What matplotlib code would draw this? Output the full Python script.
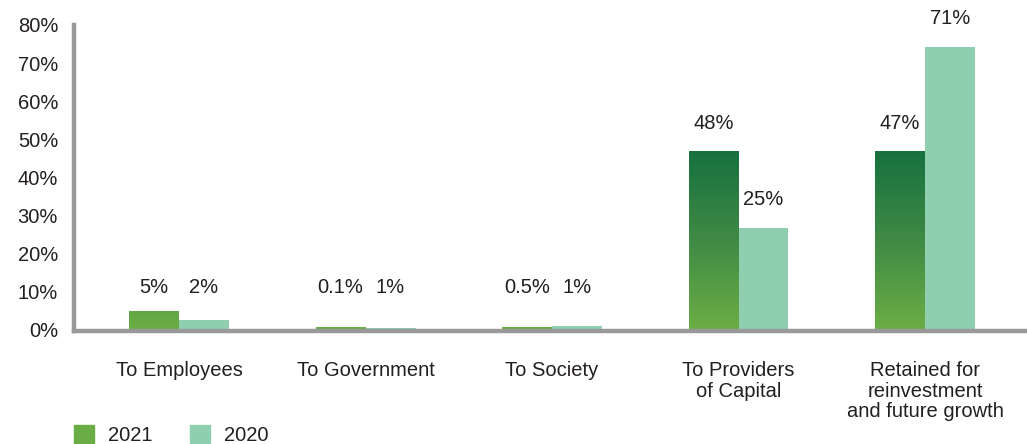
import numpy as np
import matplotlib
matplotlib.use("Agg")
from matplotlib import pyplot as plt
from matplotlib.colors import LinearSegmentedColormap
from matplotlib.patches import Patch

plt.rcParams['font.family'] = ['Liberation Sans', 'DejaVu Sans']

# --- data ---
categories = ["To Employees", "To Government", "To Society",
              "To Providers\nof Capital",
              "Retained for\nreinvestment\nand future growth"]
bars_2021 = [4.7, 0.3, 0.3, 46.7, 46.7]
bars_2020 = [2.4, 0.3, 0.7, 26.7, 74.2]
labels_2021 = ["5%", "0.1%", "0.5%", "48%", "47%"]
labels_2020 = ["2%", "1%", "1%", "25%", "71%"]
yticks = [0, 10, 20, 30, 40, 50, 60, 70, 80]

# --- styles ---
c_light21 = "#6BAD45"
c_dark21 = "#17713F"
c_2020 = "#8FCFB0"
c_axis = "#999999"
c_text = "#231F20"
fs = 14.5

cmap21 = LinearSegmentedColormap.from_list("g21", [c_light21, "#3F8A45", c_dark21])

fig = plt.figure(figsize=(10.27, 4.44), dpi=100)
ax = fig.add_axes([0.0721, 0.2534, 0.9279, 0.6903])

x = np.arange(len(categories))
w = 0.268

# 2021 bars with vertical gradient (absolute in y, light at 0 -> dark at top)
grad_top = max(bars_2021)
for xi, h in zip(x, bars_2021):
    yy = np.linspace(0, h, 200).reshape(-1, 1)
    ax.imshow(yy, extent=[xi - w, xi, 0, h], origin='lower', aspect='auto',
              cmap=cmap21, vmin=0, vmax=grad_top, zorder=1, interpolation='bilinear')

# 2020 bars flat
ax.bar(x + w / 2, bars_2020, width=w, color=c_2020, zorder=1, linewidth=0)

# value labels
def label_y(h):
    return h + 7.5 if h > 10 else 10.8

for xi, h, t in zip(x, bars_2021, labels_2021):
    ax.text(xi - w / 2, label_y(h), t, ha='center', va='center',
            fontsize=fs, color=c_text, clip_on=False)
for xi, h, t in zip(x, bars_2020, labels_2020):
    ax.text(xi + w / 2, label_y(h), t, ha='center', va='center',
            fontsize=fs, color=c_text, clip_on=False)

ax.set_xlim(-0.563, 4.547)
ax.set_ylim(-0.65, 80)

ax.set_yticks(yticks)
ax.set_yticklabels([f"{v}%" for v in yticks])
ax.set_xticks(x)
ax.set_xticklabels(categories, linespacing=1.08)
ax.tick_params(axis='y', length=0, pad=11.5, labelsize=fs, labelcolor=c_text)
ax.tick_params(axis='x', length=0, pad=21.5, labelsize=fs, labelcolor=c_text)

for s in ['top', 'right']:
    ax.spines[s].set_visible(False)
for s in ['left', 'bottom']:
    ax.spines[s].set_color(c_axis)
    ax.spines[s].set_linewidth(3.2)

handles = [Patch(color=c_light21, label="2021"), Patch(color=c_2020, label="2020")]
fig.legend(handles=handles, loc='center left', bbox_to_anchor=(74 / 1027, 0.02),
           ncol=2, frameon=False, fontsize=fs, borderpad=0, borderaxespad=0,
           handlelength=1.0, handleheight=1.0, handletextpad=0.7,
           columnspacing=1.84, labelcolor=c_text)

fig.savefig("out.png", dpi=100)
